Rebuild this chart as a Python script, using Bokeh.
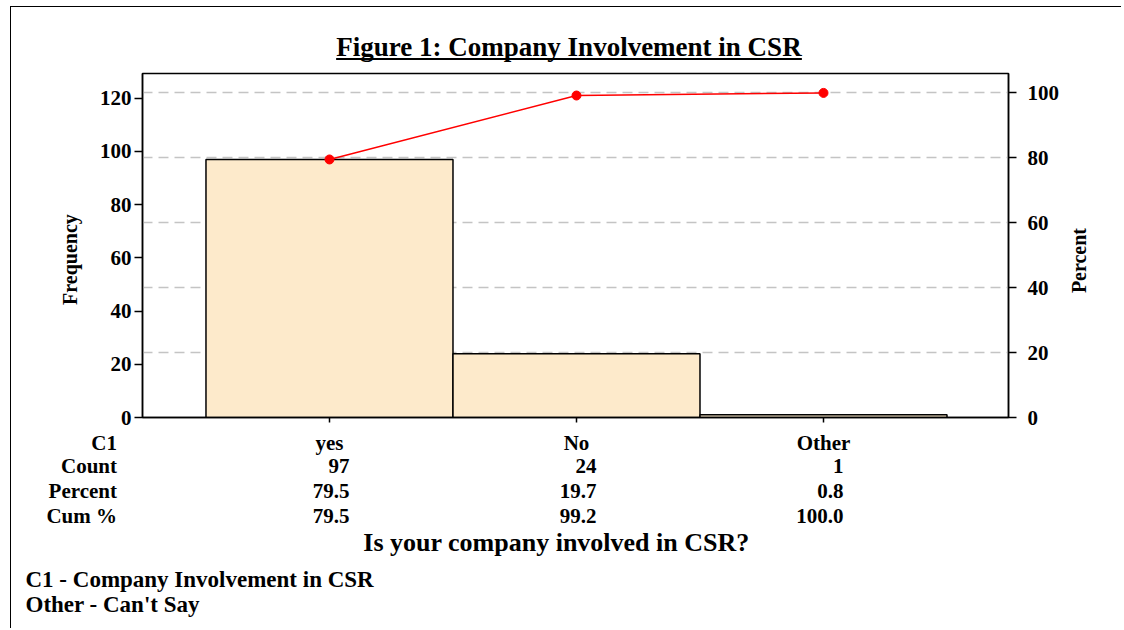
import math
from bokeh.plotting import figure
from bokeh.layouts import column, row
from bokeh.models import Range1d, LinearAxis, FixedTicker, Grid, ColumnDataSource
from bokeh.core.properties import value
from bokeh.embed import file_html
from bokeh.resources import INLINE

# ---------------- data ----------------
categories = ["yes", "No", "Other"]
counts = [97, 24, 1]
percent = [79.5, 19.7, 0.8]
cum_pct = [79.5, 99.2, 100.0]
count_labels = ["97", "24", "1"]
percent_labels = ["79.5", "19.7", "0.8"]
cum_labels = ["79.5", "99.2", "100.0"]
row_names = ["C1", "Count", "Percent", "Cum %"]
freq_ticks = [0, 20, 40, 60, 80, 100, 120]
pct_ticks = [0, 20, 40, 60, 80, 100]
title_text = "Figure 1: Company Involvement in CSR"
x_title = "Is your company involved in CSR?"
y_title = "Frequency"
y2_title = "Percent"
notes = ["C1 - Company Involvement in CSR", "Other - Can't Say"]

# ---------------- layout constants (pixels) ----------------
FONT = "Liberation Serif"
W = 1110                   # content width
HT, HM, HB = 56, 366, 199  # heights of title strip, chart row, table strip
WL, WR = 77, 55            # side strips of the chart row
WM = W - WL - WR           # main chart figure width
MB_L, MB_R, MB_T, MB_B = 54, 58, 10, 12

xs = list(range(len(categories)))
x_lo, x_hi = -0.757, 2.749
freq_max = 129.3
total = sum(counts)
frame_w = WM - MB_L - MB_R
ppu = frame_w / (x_hi - x_lo)          # pixels per category unit
frame_left_in_content = WL + MB_L       # frame left, measured in the content box

src = ColumnDataSource(dict(x=xs, cat=categories, count=counts, cum=cum_pct,
                            count_lbl=count_labels, pct_lbl=percent_labels,
                            cum_lbl=cum_labels))


def blank(width, height, xr, yr):
    f = figure(width=width, height=height, output_backend="svg", toolbar_location=None,
               x_range=xr, y_range=yr, x_axis_type=None, y_axis_type=None,
               min_border=0, background_fill_color="white", border_fill_color="white")
    f.outline_line_color = None
    return f


def txt(f, x, y, t, size, align="left", angle=0.0, x_offset=0, source=None):
    kw = dict(text_font=value(FONT), text_font_style="bold", text_font_size=size,
              text_align=align, text_baseline="middle", text_color="black",
              angle=angle, x_offset=x_offset)
    if source is not None:
        f.text(x=x, y=y, text=t, source=source, **kw)
    else:
        f.text(x=[x], y=[y], text=[t], **kw)


# ---------------- title strip ----------------
pt = blank(W, HT, Range1d(0, W), Range1d(0, HT))
title_cx = 557.5
title_half = 17.25 * 27 / 2
txt(pt, title_cx, 16.5, title_text, "27px", align="center")
pt.segment(x0=[title_cx - title_half], x1=[title_cx + title_half], y0=[4.5], y1=[4.5],
           line_color="black", line_width=2)

# ---------------- main chart ----------------
p = figure(width=WM, height=HM, output_backend="svg", toolbar_location=None,
           x_range=Range1d(x_lo, x_hi), y_range=Range1d(0, freq_max),
           min_border_left=MB_L, min_border_right=MB_R, min_border_top=MB_T,
           min_border_bottom=MB_B, background_fill_color="white",
           border_fill_color="white")
p.extra_y_ranges = {"pct": Range1d(0, freq_max * 100 / total)}
p.outline_line_color = "black"
p.outline_line_width = 1.5
p.xgrid.visible = False
p.ygrid.visible = False

p.add_layout(Grid(dimension=1, y_range_name="pct", ticker=FixedTicker(ticks=pct_ticks[1:]),
                  grid_line_color="#C4C4C4", grid_line_dash="10 6", grid_line_width=1.5))


def style_axis(ax, tick_out, standoff):
    ax.axis_line_color = "black"
    ax.axis_line_width = 1.5
    ax.major_tick_line_color = "black"
    ax.major_tick_line_width = 1.5
    ax.major_tick_out = tick_out
    ax.major_tick_in = 0
    ax.minor_tick_out = 0
    ax.minor_tick_in = 0
    ax.major_label_text_font = FONT
    ax.major_label_text_font_style = "bold"
    ax.major_label_text_font_size = "21px"
    ax.major_label_text_color = "black"
    ax.major_label_standoff = standoff


yl = p.yaxis[0]
yl.ticker = FixedTicker(ticks=freq_ticks)
style_axis(yl, 8, 3)

yr = LinearAxis(y_range_name="pct", ticker=FixedTicker(ticks=pct_ticks))
style_axis(yr, 8, 11)
p.add_layout(yr, "right")

xa = p.xaxis[0]
xa.ticker = FixedTicker(ticks=xs)
xa.major_label_overrides = {i: "" for i in xs}
style_axis(xa, 5, 0)

p.vbar(x="x", top="count", width=1, source=src, fill_color="#FDEACB",
       line_color="black", line_width=1.5)
p.line(x="x", y="cum", source=src, y_range_name="pct", line_color="red", line_width=1.5)
p.scatter(x="x", y="cum", source=src, y_range_name="pct", size=9,
          fill_color="red", line_color="red")

# side strips with the axis titles
pl = blank(WL, HM, Range1d(0, WL), Range1d(0, HM))
txt(pl, 58, 168, y_title, "20px", align="center", angle=math.pi / 2)
pr = blank(WR, HM, Range1d(0, WR), Range1d(0, HM))
txt(pr, 12, 167, y2_title, "20px", align="center", angle=math.pi / 2)

# ---------------- table strip (same category scale as the chart) ----------------
bx_lo = x_lo - frame_left_in_content / ppu
bx_hi = bx_lo + W / ppu
pb = blank(W, HB, Range1d(bx_lo, bx_hi), Range1d(0, HB))


def px2x(px):
    return bx_lo + px / ppu


row_y = [185.5, 162.5, 137.5, 112.5]
for name, yy in zip(row_names, row_y):
    txt(pb, px2x(105.5), yy, name, "21px", align="right")

txt(pb, "x", row_y[0], "cat", "21px", align="center", source=src)
for col, yy in zip(["count_lbl", "pct_lbl", "cum_lbl"], row_y[1:]):
    txt(pb, "x", yy, col, "21px", align="right", x_offset=20, source=src)

txt(pb, px2x(545), 86, x_title, "26px", align="center")
txt(pb, px2x(14), 49.5, notes[0], "23px")
txt(pb, px2x(14), 24, notes[1], "23px")

layout = column(pt, row(pl, p, pr), pb,
                styles={"border-top": "1.5px solid black",
                        "border-left": "1.5px solid black",
                        "margin-left": "9.5px", "margin-top": "5.5px"})

open("out.html", "w").write(file_html(layout, INLINE))
